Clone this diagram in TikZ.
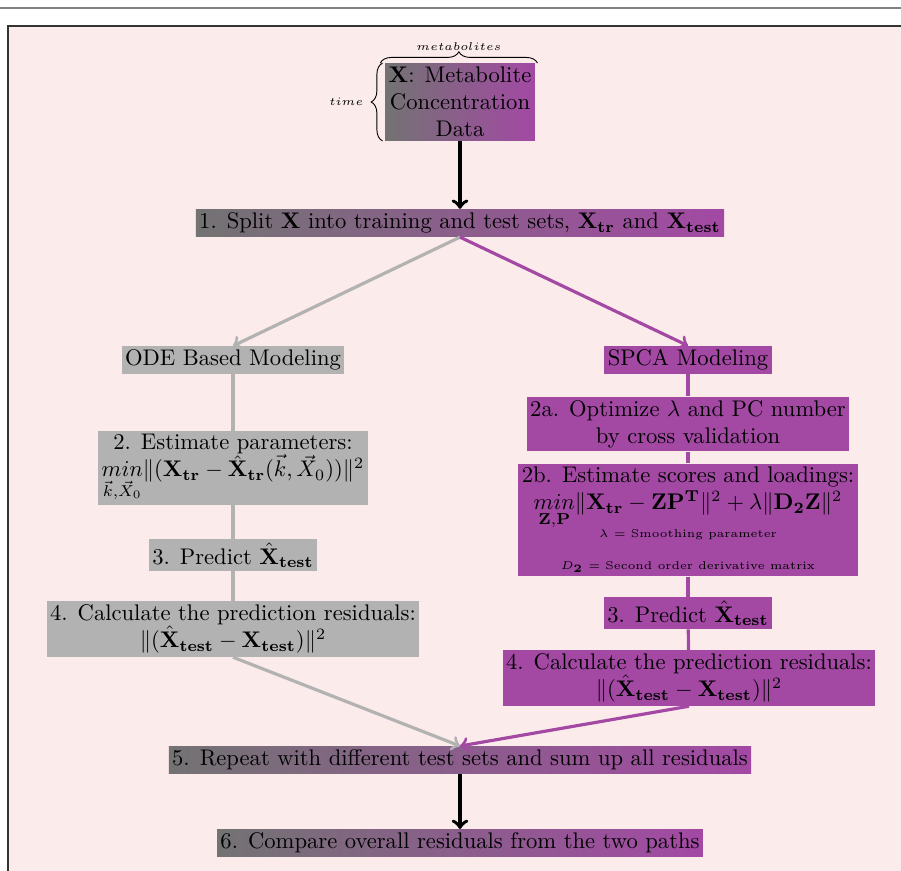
\documentclass[tikz,border=0pt]{standalone}
\usepackage{amsmath}
\usetikzlibrary{arrows,decorations.pathreplacing}
\definecolor{spcapurple}{RGB}{163,73,164}
\definecolor{bgpink}{RGB}{251,235,235}
\tikzstyle{odebox}=[fill=gray!60,inner sep=1.5pt,align=center]
\tikzstyle{spcabox}=[fill=spcapurple,inner sep=1.5pt,align=center]
\tikzstyle{bothbox}=[left color=gray!90!black,right color=spcapurple,inner sep=1.5pt,align=center]
\tikzstyle{odeline}=[line width=1.4pt,gray!60]
\tikzstyle{spcaline}=[line width=1.4pt,spcapurple]

\begin{document}
\begin{tikzpicture}[x=0.01555cm,y=-0.01555cm]
	% Rahmen zeichnen
	\useasboundingbox (0,0) rectangle (901,870);
	\fill[white] (0,0) rectangle (901,870);
	\draw[gray,line width=0.6pt] (0,8) -- (901,8);
	\draw[fill=bgpink,draw=black!80,line width=0.5pt] (8,26) rectangle (910,880);
	% Daten
	\node[bothbox] (data) at (460,102) {$\mathbf{X}$: Metabolite\\Concentration\\Data};
	\draw[decorate,decoration={brace,amplitude=5pt}] ([xshift=-2pt]data.north west) -- ([xshift=1pt]data.north east)
		node[midway,above=2pt] {$\scriptscriptstyle metabolites$};
	\draw[decorate,decoration={brace,amplitude=5pt}] ([xshift=-1pt]data.south west) -- ([xshift=-1pt]data.north west)
		node[midway,left=5pt] {$\scriptscriptstyle time$};
	% Schritt 1
	\node[bothbox] (split) at (460,223) {1. Split $\mathbf{X}$ into training and test sets, $\mathbf{X_{tr}}$ and $\mathbf{X_{test}}$};
	\draw[->,ultra thick] (data) -- (split);
	% ODE Pfad
	\node[odebox] (ode) at (233,360) {ODE Based Modeling};
	\node[odebox] (est) at (233,468) {2. Estimate parameters:\\$\underset{\vec{k},\vec{X}_0}{min}\|(\mathbf{X_{tr}}-\hat{\mathbf{X}}_{\mathbf{tr}}(\vec{k},\vec{X}_0))\|^2$};
	\node[odebox] (predL) at (233,555) {3. Predict $\hat{\mathbf{X}}_{\mathbf{test}}$};
	\node[odebox] (resL) at (233,629) {4. Calculate the prediction residuals:\\$\|(\hat{\mathbf{X}}_{\mathbf{test}}-\mathbf{X_{test}})\|^2$};
	\draw[->,odeline] (split.south) -- (ode.north);
	\draw[odeline] (ode) -- (est);
	\draw[odeline] (est) -- (predL);
	\draw[odeline] (predL) -- (resL);
	% SPCA Pfad
	\node[spcabox] (spca) at (688,360) {SPCA Modeling};
	\node[spcabox] (opt) at (688,424) {2a. Optimize $\lambda$ and PC number\\by cross validation};
	\node[spcabox] (scores) at (688,520) {2b. Estimate scores and loadings:\\$\underset{\mathbf{Z},\mathbf{P}}{min}\|\mathbf{X_{tr}}-\mathbf{ZP^T}\|^2+\lambda\|\mathbf{D_2Z}\|^2$\\[-1pt]
		{\tiny $\lambda$ = Smoothing parameter}\\[2pt]{\tiny $D_{\mathbf{2}}$ = Second order derivative matrix}};
	\node[spcabox] (predR) at (688,613) {3. Predict $\hat{\mathbf{X}}_{\mathbf{test}}$};
	\node[spcabox] (resR) at (689,678) {4. Calculate the prediction residuals:\\$\|(\hat{\mathbf{X}}_{\mathbf{test}}-\mathbf{X_{test}})\|^2$};
	\draw[->,spcaline] (split.south) -- (spca.north);
	\draw[spcaline] (spca) -- (opt);
	\draw[spcaline] (opt) -- (scores);
	\draw[spcaline] (scores) -- (predR);
	\draw[spcaline] (predR) -- (resR);
	% Schritte 5 und 6
	\node[bothbox] (repeat) at (460,760) {5. Repeat with different test sets and sum up all residuals};
	\node[bothbox] (compare) at (460,843) {6. Compare overall residuals from the two paths};
	\draw[->,odeline] (resL.south) -- (repeat.north);
	\draw[->,spcaline] (resR.south) -- (repeat.north);
	\draw[->,ultra thick] (repeat) -- (compare);
\end{tikzpicture}
\end{document}
